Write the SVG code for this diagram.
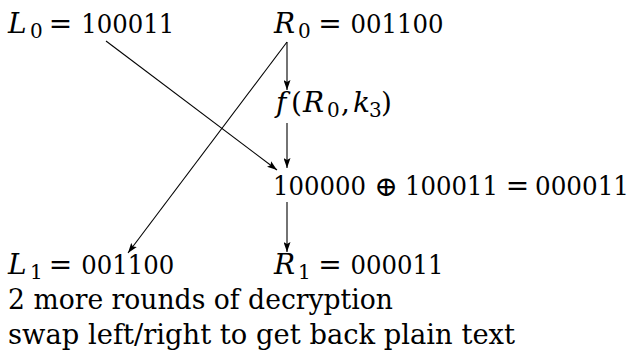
<svg xmlns="http://www.w3.org/2000/svg" width="635" height="354" viewBox="0 0 635 354">
  <style>
    text { font-family: "DejaVu Serif", serif; font-size: 28px; fill: #000; }
    .it { font-style: italic; }
    .sub { font-size: 20px; }
    .num { font-size: 26px; }
    .eq { font-size: 28px; text-anchor: middle; }
    .op { font-size: 28px; text-anchor: middle; }
    .conn line { stroke: #000; stroke-width: 1.1; fill: none; marker-end: url(#arr); }
  </style>
  <defs>
    <marker id="arr" markerUnits="userSpaceOnUse" viewBox="0 0 10 7" refX="10" refY="3.5" markerWidth="10" markerHeight="7" orient="auto">
      <path d="M0,0 L10,3.5 L0,7 L2,3.5 z" fill="#000"/>
    </marker>
  </defs>

  <g id="L0">
    <text x="8" y="33" class="it">L</text>
    <text x="30" y="38" class="sub">0</text>
    <text x="60.6" y="33" class="eq">=</text>
    <text x="81.3" y="33" class="num" textLength="93" lengthAdjust="spacingAndGlyphs">100011</text>
  </g>

  <g id="R0">
    <text x="274" y="33" class="it">R</text>
    <text x="298" y="38" class="sub">0</text>
    <text x="330" y="33" class="eq">=</text>
    <text x="350.5" y="33" class="num" textLength="93" lengthAdjust="spacingAndGlyphs">001100</text>
  </g>

  <g id="f">
    <text x="276" y="112" class="it">f</text>
    <text x="291" y="112">(</text>
    <text x="303" y="112" class="it">R</text>
    <text x="327" y="117" class="sub">0</text>
    <text x="341" y="112">,</text>
    <text x="353" y="112" class="it">k</text>
    <text x="369" y="117" class="sub">3</text>
    <text x="381" y="112">)</text>
  </g>

  <g id="xor">
    <text x="273" y="195" class="num" textLength="93" lengthAdjust="spacingAndGlyphs">100000</text>
    <text x="386" y="196" class="op">⊕</text>
    <text x="405" y="195" class="num" textLength="93" lengthAdjust="spacingAndGlyphs">100011</text>
    <text x="517.5" y="195" class="eq">=</text>
    <text x="535" y="195" class="num" textLength="94" lengthAdjust="spacingAndGlyphs">000011</text>
  </g>

  <g id="L1">
    <text x="8" y="274" class="it">L</text>
    <text x="30" y="279" class="sub">1</text>
    <text x="60.6" y="274" class="eq">=</text>
    <text x="81.3" y="274" class="num" textLength="93" lengthAdjust="spacingAndGlyphs">001100</text>
  </g>

  <g id="R1">
    <text x="274" y="274" class="it">R</text>
    <text x="298" y="279" class="sub">1</text>
    <text x="330" y="274" class="eq">=</text>
    <text x="350.5" y="274" class="num" textLength="93" lengthAdjust="spacingAndGlyphs">000011</text>
  </g>

  <g id="note1">
    <text x="8" y="309" textLength="385" lengthAdjust="spacingAndGlyphs">2 more rounds of decryption</text>
  </g>
  <g id="note2">
    <text x="8" y="344" textLength="507" lengthAdjust="spacingAndGlyphs">swap left/right to get back plain text</text>
  </g>

  <g id="connectors" class="conn">
    <line x1="287" y1="42" x2="287" y2="90"/>
    <line x1="287" y1="123" x2="287" y2="168"/>
    <line x1="287" y1="202" x2="287" y2="252"/>
    <line x1="106" y1="41" x2="277" y2="170"/>
    <line x1="287" y1="42" x2="128" y2="253"/>
  </g>
</svg>
